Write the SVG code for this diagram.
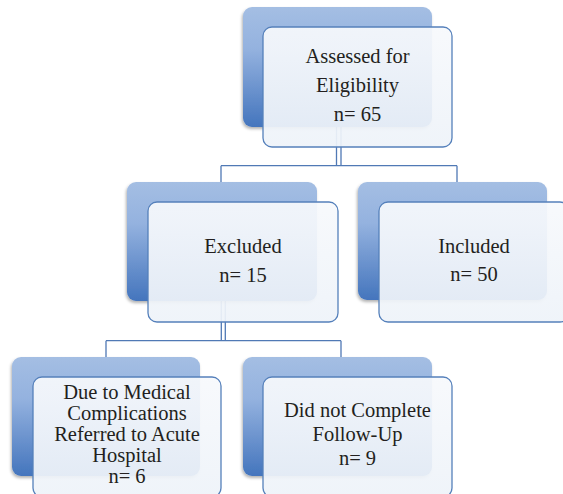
<svg xmlns="http://www.w3.org/2000/svg" width="563" height="494" viewBox="0 0 563 494">
<defs>
<linearGradient id="bg" x1="0" y1="0" x2="0" y2="1">
<stop offset="0" stop-color="#a4bee3"/>
<stop offset="0.35" stop-color="#94b2df"/>
<stop offset="1" stop-color="#4475bd"/>
</linearGradient>
<linearGradient id="fg" x1="0" y1="0" x2="0" y2="1">
<stop offset="0" stop-color="#f7f9fc"/>
<stop offset="1" stop-color="#eef3f9"/>
</linearGradient>
<filter id="sh" x="-10%" y="-10%" width="120%" height="125%">
<feDropShadow dx="-1" dy="2" stdDeviation="1.5" flood-color="#000" flood-opacity="0.3"/>
</filter>
</defs>
<style>
.back{fill:url(#bg);filter:url(#sh)}
.front{fill:url(#fg);fill-opacity:0.93;stroke:#5580bb;stroke-width:1.3}
.t{font-size:20.5px;fill:#231f20;text-anchor:middle}
.c{fill:none;stroke:#5079b5;stroke-width:1.3}
</style>
<g id="connectors">
<path class="c" d="M336.5 127 V165.7 M341 127 V165.7 M221 165.7 H457 M221 165.7 V182 M457 165.7 V182"/>
<path class="c" d="M221.3 301 V340.7 M225.3 301 V340.7 M106 340.7 H341 M106 340.7 V357 M341 340.7 V357"/>
</g>
<g font-family="Liberation Serif, DejaVu Serif, serif">
<g id="assessed">
<rect class="back" x="243" y="7" width="189" height="120" rx="9"/>
<rect class="front" x="263" y="27" width="189" height="120" rx="9"/>
<text class="t" x="357.5" y="63">Assessed for</text>
<text class="t" x="357.5" y="92">Eligibility</text>
<text class="t" x="357.5" y="121">n= 65</text>
</g>
<g id="excluded">
<rect class="back" x="127" y="182" width="190" height="119" rx="9"/>
<rect class="front" x="148" y="202" width="190" height="120" rx="9"/>
<text class="t" x="243" y="253">Excluded</text>
<text class="t" x="243" y="282">n= 15</text>
</g>
<g id="included">
<rect class="back" x="358" y="182" width="189" height="118" rx="9"/>
<rect class="front" x="379" y="202" width="190" height="120" rx="9"/>
<text class="t" x="474" y="253">Included</text>
<text class="t" x="474" y="281">n= 50</text>
</g>
<g id="medical">
<rect class="back" x="12" y="357" width="188" height="119" rx="9"/>
<rect class="front" x="33" y="377" width="188" height="120" rx="9"/>
<text class="t" x="127" y="399">Due to Medical</text>
<text class="t" x="127" y="420">Complications</text>
<text class="t" x="127" y="441">Referred to Acute</text>
<text class="t" x="127" y="462">Hospital</text>
<text class="t" x="127" y="483">n= 6</text>
</g>
<g id="followup">
<rect class="back" x="243" y="357" width="189" height="119" rx="9"/>
<rect class="front" x="263" y="377" width="189" height="120" rx="9"/>
<text class="t" x="357.5" y="417">Did not Complete</text>
<text class="t" x="357.5" y="441">Follow-Up</text>
<text class="t" x="357.5" y="465">n= 9</text>
</g>
</g>
</svg>
